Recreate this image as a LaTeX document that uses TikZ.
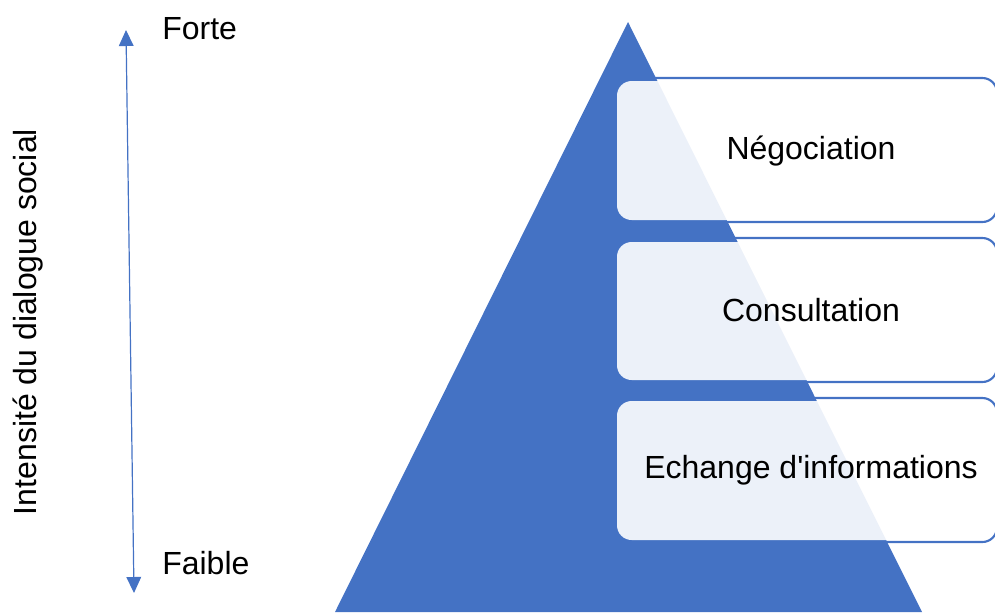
\documentclass[tikz,border=0pt]{standalone}
\usepackage{fontspec}
\setmainfont{Liberation Sans}
\usetikzlibrary{arrows.meta}
\definecolor{pblue}{HTML}{4472C4}
\tikzset{
  lbl/.style={font=\fontsize{24}{28}\selectfont, inner sep=0pt, text=black},
  outl/.style={draw=pblue, line width=1.6pt, rounded corners=11pt},
  boxfill/.style={fill=white, fill opacity=0.9, draw=none, rounded corners=11pt},
}
\begin{document}
\begin{tikzpicture}[x=0.75pt, y=-0.75pt]
\useasboundingbox (0,0) rectangle (995,612);
\begin{scope}
\clip (0,0) rectangle (995,612);
% pyramid
\fill[pblue] (628,22) -- (922,612) -- (335,612) -- cycle;
% boxes
\foreach \t/\b in {78/222, 238/382, 398/542}{
  \draw[outl] (617,\t) rectangle (997,\b);
}
\fill[boxfill] (617,81) rectangle (990,220);
\fill[boxfill] (617,242) rectangle (990,380);
\fill[boxfill] (617,401) rectangle (990,540);
\end{scope}
\node[lbl] (neg) at (811,151) {Négociation};
\node[lbl] (cons) at (811,310) {Consultation};
\node[lbl] (ech) at (811,470) {Echange d\textquotesingle informations};
% axis
\coordinate (top) at (126,30);
\coordinate (bot) at (134,593);
\draw[pblue, line width=0.9pt, {Triangle[length=12pt,width=11pt]}-{Triangle[length=12pt,width=11pt]}] (top) -- (bot);
\node[lbl, anchor=west] (forte) at (162,29) {Forte};
\node[lbl, anchor=west] (faible) at (162,563) {Faible};
\node[lbl, rotate=90] (axis) at (28,322) {Intensité du dialogue social};
\end{tikzpicture}
\end{document}
